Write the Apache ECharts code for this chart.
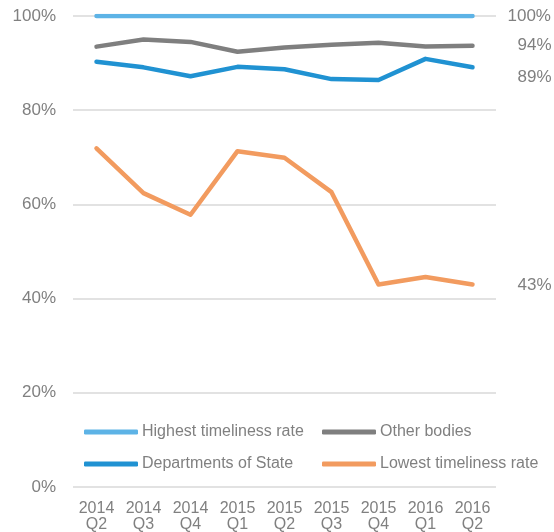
<!DOCTYPE html>
<html>
<head>
<meta charset="utf-8">
<script src="https://cdn.jsdelivr.net/npm/echarts@6/dist/echarts.min.js"></script>
<style>
  html, body { margin: 0; padding: 0; background: #fff; }
  #main { width: 554px; height: 532px; }
</style>
</head>
<body>
<div id="main"></div>
<script>
// quarters along the x axis
var quarters = ['2014\nQ2', '2014\nQ3', '2014\nQ4', '2015\nQ1', '2015\nQ2', '2015\nQ3', '2015\nQ4', '2016\nQ1', '2016\nQ2'];

// timeliness rates, %
var highest = [100, 100, 100, 100, 100, 100, 100, 100, 100];
var otherBodies = [93.5, 95.0, 94.5, 92.4, 93.3, 93.9, 94.3, 93.5, 93.7];
var departments = [90.3, 89.1, 87.2, 89.2, 88.7, 86.6, 86.4, 90.9, 89.1];
var lowest = [71.9, 62.4, 57.8, 71.3, 69.9, 62.6, 43.0, 44.6, 43.0];

var yTicks = [0, 20, 40, 60, 80, 100];

var textGrey = '#808080';
var font = 'Liberation Sans, Arial, sans-serif';

function makeLine(name, data, color, labelOffset) {
    return {
        name: name,
        type: 'line',
        data: data,
        symbol: 'none',
        lineStyle: { color: color, width: 4.5, cap: 'round', join: 'round' },
        itemStyle: { color: color },
        endLabel: {
            show: true,
            distance: 0,
            offset: labelOffset,
            color: textGrey,
            fontSize: 17,
            fontFamily: font,
            formatter: function (p) {
                return Math.round(p.value) + '%';
            }
        }
    };
}

var myChart = echarts.init(document.getElementById('main'));
var option = {
    animation: false,
    grid: {
        left: 73,
        right: 58,
        top: 16,
        bottom: 45,
        outerBoundsMode: 'none'
    },
    legend: [
        {
            data: ['Highest timeliness rate', 'Departments of State'],
            orient: 'vertical',
            left: 84,
            top: 424,
            padding: 0,
            itemWidth: 54,
            itemHeight: 5,
            itemGap: 16,
            icon: 'roundRect',
            textStyle: { color: textGrey, fontSize: 16, fontFamily: font, padding: [0, 0, 0, -1] }
        },
        {
            data: ['Other bodies', 'Lowest timeliness rate'],
            orient: 'vertical',
            left: 322,
            top: 424,
            padding: 0,
            itemWidth: 54,
            itemHeight: 5,
            itemGap: 16,
            icon: 'roundRect',
            textStyle: { color: textGrey, fontSize: 16, fontFamily: font, padding: [0, 0, 0, -1] }
        }
    ],
    xAxis: {
        type: 'category',
        data: quarters,
        boundaryGap: true,
        axisLine: { show: false },
        axisTick: { show: false },
        axisLabel: {
            color: textGrey,
            fontSize: 16,
            fontFamily: font,
            lineHeight: 16,
            margin: 14,
            interval: 0
        }
    },
    yAxis: {
        type: 'value',
        min: yTicks[0],
        max: yTicks[yTicks.length - 1],
        interval: 20,
        axisLine: { show: false },
        axisTick: { show: false },
        axisLabel: {
            color: textGrey,
            fontSize: 17,
            fontFamily: font,
            margin: 17,
            formatter: '{value}%'
        },
        splitLine: { lineStyle: { color: '#d9d9d9', width: 1.5 } }
    },
    series: [
        makeLine('Highest timeliness rate', highest, '#5db3e6', [35, 0]),
        makeLine('Other bodies', otherBodies, '#7f7f7f', [45, 0]),
        makeLine('Departments of State', departments, '#2092d2', [45, 10]),
        makeLine('Lowest timeliness rate', lowest, '#f29b5f', [45, 1])
    ]
};
myChart.setOption(option);
</script>
</body>
</html>
